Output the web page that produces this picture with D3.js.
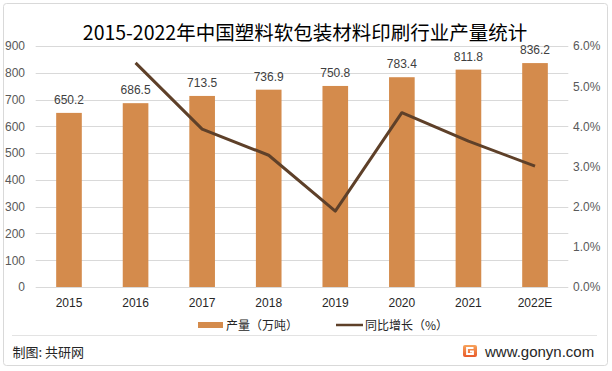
<!DOCTYPE html>
<html><head><meta charset="utf-8">
<script src="https://cdn.jsdelivr.net/npm/d3@7"></script>
<style>
html,body{margin:0;padding:0;background:#fff;}
svg{display:block;}
text{font-family:"Liberation Sans","Noto Sans CJK SC",sans-serif;}
.cjk{font-family:"Noto Sans CJK SC","Liberation Sans",sans-serif;}
</style></head>
<body>
<svg id="chart" width="612" height="371"></svg>
<script>
const title = "2015-2022年中国塑料软包装材料印刷行业产量统计";
const categories = ["2015","2016","2017","2018","2019","2020","2021","2022E"];
const output = [650.2, 686.5, 713.5, 736.9, 750.8, 783.4, 811.8, 836.2];
const growth = [null, 5.58, 3.93, 3.28, 1.89, 4.34, 3.63, 3.01];
const leftTicks = [0,100,200,300,400,500,600,700,800,900];
const rightTicks = [0,1,2,3,4,5,6];
const legendLabels = ["产量（万吨）","同比增长（%）"];
const sourceText = "制图: 共研网";
const siteText = "www.gonyn.com";

const svg = d3.select("#chart");
const M = {left:35.7, right:568.3, top:46, bottom:287};
const barColor = "#D48B4C", lineColor = "#5E4029";

svg.append("rect").attr("x",3.5).attr("y",3.5).attr("width",604).attr("height",362)
  .attr("rx",3).attr("fill","#fff").attr("stroke","#D9D9D9").attr("stroke-width",1);

const x = d3.scaleBand().domain(categories).range([M.left, M.right]).paddingInner(0.615).paddingOuter(0.3075);
const yL = d3.scaleLinear().domain([0,900]).range([M.bottom, M.top]);
const yR = d3.scaleLinear().domain([0,6]).range([M.bottom, M.top]);

// gridlines
svg.append("g").selectAll("line").data(leftTicks).join("line")
  .attr("x1",M.left).attr("x2",M.right)
  .attr("y1",d=>Math.round(yL(d))+0.5).attr("y2",d=>Math.round(yL(d))+0.5)
  .attr("stroke","#D9D9D9").attr("stroke-width",1);

// left axis labels
const axL = d3.axisLeft(yL).tickValues(leftTicks).tickSize(0).tickPadding(0);
const gL = svg.append("g").attr("transform","translate(25,0)").call(axL);
gL.select(".domain").remove();
gL.selectAll("text").attr("fill","#595959").style("font-size","12px").style("font-family","Liberation Sans, sans-serif");

// right axis labels
const axR = d3.axisRight(yR).tickValues(rightTicks).tickSize(0).tickPadding(0).tickFormat(d=>d.toFixed(1)+"%");
const gR = svg.append("g").attr("transform","translate(573,0)").call(axR);
gR.select(".domain").remove();
gR.selectAll("text").attr("fill","#595959").style("font-size","12px").style("font-family","Liberation Sans, sans-serif");

// bottom axis labels
const axB = d3.axisBottom(x).tickSize(0).tickPadding(0);
const gB = svg.append("g").attr("transform","translate(0,298)").call(axB);
gB.select(".domain").remove();
gB.selectAll("text").attr("fill","#262626").style("font-size","12px").style("font-family","Liberation Sans, sans-serif");

// bars
svg.append("g").selectAll("rect").data(output).join("rect")
  .attr("x",(d,i)=>x(categories[i])).attr("width",x.bandwidth())
  .attr("y",d=>yL(d)).attr("height",d=>M.bottom-yL(d))
  .attr("fill",barColor);

// data labels
svg.append("g").selectAll("text").data(output).join("text")
  .attr("x",(d,i)=>x(categories[i])+x.bandwidth()/2).attr("y",d=>yL(d)-9)
  .attr("text-anchor","middle").attr("fill","#404040").style("font-size","12px")
  .text(d=>d.toFixed(1));

// line
const pts = growth.map((g,i)=>({c:categories[i], g})).filter(d=>d.g!=null);
svg.append("path").datum(pts)
  .attr("d", d3.line().x(d=>x(d.c)+x.bandwidth()/2).y(d=>yR(d.g)))
  .attr("fill","none").attr("stroke",lineColor).attr("stroke-width",3).attr("stroke-linejoin","round");

// title
svg.append("text").attr("class","cjk").attr("x",305).attr("y",40).attr("text-anchor","middle")
  .attr("fill","#000").style("font-size","19.5px").text(title);

// legend
const lg = svg.append("g");
lg.append("rect").attr("x",198).attr("y",322).attr("width",25).attr("height",6).attr("fill",barColor);
lg.append("text").attr("class","cjk").attr("x",226).attr("y",329.5).attr("fill","#262626").style("font-size","12px").text(legendLabels[0]);
lg.append("line").attr("x1",336).attr("x2",363).attr("y1",325).attr("y2",325).attr("stroke",lineColor).attr("stroke-width",2.5);
lg.append("text").attr("class","cjk").attr("x",365).attr("y",329.5).attr("fill","#262626").style("font-size","12px").text(legendLabels[1]);

// separator
svg.append("line").attr("x1",12).attr("x2",597).attr("y1",335.5).attr("y2",335.5).attr("stroke","#E3E3E3").attr("stroke-width",1);

// footer
svg.append("text").attr("class","cjk").attr("x",12.5).attr("y",357).attr("fill","#262626").style("font-size","13px").text(sourceText);
const logo = svg.append("g").attr("transform","translate(463,345)");
const grad = svg.append("defs").append("linearGradient").attr("id","lg1").attr("x1","0").attr("x2","0").attr("y1","0").attr("y2","1");
grad.append("stop").attr("offset","0").attr("stop-color","#F7A35C");
grad.append("stop").attr("offset","1").attr("stop-color","#E85A2A");
logo.append("rect").attr("width",14).attr("height",12).attr("rx",2).attr("fill","url(#lg1)");
logo.append("path").attr("d","M10.5 3 H4 V9 H10 V6.5 H7").attr("fill","none").attr("stroke","#fff").attr("stroke-width",1.8);
svg.append("text").attr("x",485).attr("y",356.5).attr("fill","#262626").style("font-size","15px").style("font-family","Liberation Sans, sans-serif").text(siteText);
</script>
</body></html>
